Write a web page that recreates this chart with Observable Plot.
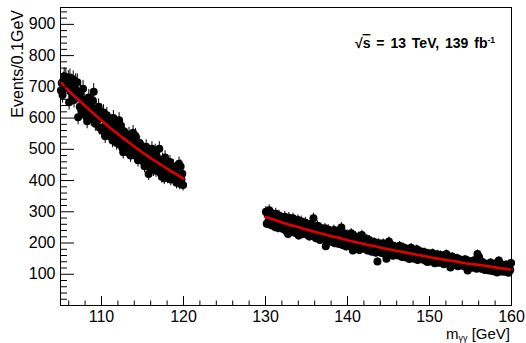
<!DOCTYPE html>
<html><head><meta charset="utf-8">
<script src="https://cdn.jsdelivr.net/npm/d3@7"></script>
<script src="https://cdn.jsdelivr.net/npm/@observablehq/plot@0.6"></script>
<style>
html,body{margin:0;padding:0;background:#fff;}
#chart{width:526px;height:343px;overflow:hidden;}
</style></head><body><div id="chart"></div>
<script>
// ---- data (Events per 0.1 GeV bin) ----
const binWidth = 0.1;
const lowStart = 105;
const lowCounts = [
  688, 712, 674, 720, 734, 696, 731, 716, 703, 725,
  651, 730, 684, 709, 668, 724, 658, 699, 715, 677,
  715, 603, 668, 636, 684, 626, 660, 694, 617, 652,
  608, 650, 590, 638, 666, 612, 646, 598, 633, 656,
  684, 612, 582, 630, 590, 618, 636, 570, 609, 620,
  560, 604, 618, 570, 542, 596, 609, 555, 590, 566,
  542, 587, 556, 528, 600, 548, 534, 578, 520, 566,
  535, 593, 515, 576, 548, 505, 491, 558, 531, 521,
  498, 538, 492, 547, 519, 480, 532, 503, 553, 494,
  531, 543, 478, 511, 465, 502, 520, 472, 507, 485,
  462, 500, 446, 492, 508, 465, 456, 421, 443, 481,
  476, 502, 449, 434, 471, 494, 431, 477, 444, 464,
  502, 426, 454, 412, 466, 434, 407, 474, 419, 457,
  410, 452, 423, 459, 403, 441, 414, 446, 403, 431,
  436, 393, 417, 416, 454, 390, 445, 403, 422, 386
];
const highStart = 130;
const highCounts = [
  300, 262, 291, 270, 305, 284, 258, 296, 275, 266,
  282, 251, 294, 265, 276, 248, 288, 259, 279, 270,
  278, 245, 266, 284, 252, 238, 271, 229, 281, 256,
  270, 236, 258, 279, 243, 262, 232, 266, 249, 274,
  224, 262, 238, 270, 251, 229, 258, 244, 266, 233,
  258, 226, 249, 221, 244, 262, 233, 251, 279, 225,
  246, 215, 239, 255, 222, 236, 210, 248, 228, 241,
  238, 212, 247, 190, 231, 219, 243, 205, 226, 236,
  233, 203, 226, 242, 199, 221, 210, 236, 215, 197,
  224, 198, 250, 215, 193, 231, 206, 220, 189, 227,
  218, 192, 225, 201, 231, 210, 176, 214, 197, 222,
  185, 211, 196, 220, 178, 205, 193, 226, 188, 207,
  206, 181, 199, 213, 176, 194, 210, 185, 201, 172,
  197, 174, 203, 183, 169, 192, 141, 200, 178, 190,
  195, 168, 186, 199, 175, 181, 163, 150, 191, 177,
  205, 166, 185, 172, 193, 159, 180, 170, 188, 162,
  183, 160, 176, 191, 165, 178, 155, 169, 186, 174,
  172, 154, 181, 163, 176, 149, 168, 185, 158, 170,
  176, 150, 165, 158, 180, 146, 169, 161, 152, 173,
  148, 166, 155, 171, 144, 160, 152, 139, 167, 158,
  162, 141, 157, 168, 146, 153, 135, 160, 149, 164,
  155, 137, 150, 162, 141, 146, 158, 132, 151, 143,
  165, 136, 148, 140, 153, 122, 145, 157, 131, 147,
  147, 130, 142, 152, 126, 139, 148, 133, 144, 128,
  141, 127, 138, 148, 123, 136, 112, 143, 130, 139,
  126, 140, 121, 134, 145, 128, 137, 118, 165, 131,
  155, 119, 132, 141, 117, 128, 136, 114, 130, 124,
  118, 133, 112, 127, 138, 121, 129, 110, 125, 134,
  115, 128, 106, 123, 144, 117, 126, 109, 131, 120,
  124, 108, 119, 131, 112, 121, 105, 127, 114, 136
];
// fit curves
const fitLowX = [105,106,107,108,109,110,111,112,113,114,115,116,117,118,119,120];
const fitLowY = [715,688,663,639,615,592,570,549,529,509,490,472,455,438,422,406];
const fitHighX = [130,131,132,133,134,135,136,137,138,139,140,141,142,143,144,145,146,147,148,149,150,151,152,153,154,155,156,157,158,159,160];
const fitHighY = [283,275,266,258,251,243,236,229,222,216,209,203,197,191,186,180,175,170,165,160,155,150,146,142,137,133,130,126,122,118,115];
// axes
const xDomain = [105, 160];
const yDomain = [0, 954];
const xMajorTicks = [110,120,130,140,150,160];
const xMinorTicks = [106,108,112,114,116,118,122,124,126,128,132,134,136,138,142,144,146,148,152,154,156,158];
const yMajorTicks = [100,200,300,400,500,600,700,800,900];
const yMinorTicks = [20,40,60,80,120,140,160,180,220,240,260,280,320,340,360,380,420,440,460,480,520,540,560,580,620,640,660,680,720,740,760,780,820,840,860,880,920,940];
const yTitle = "Events/0.1GeV";
const xTitleMain = "m";
const xTitleSub = "γγ";
const xTitleUnit = " [GeV]";
const annRoot = "√";
const annS = "s";
const annText = " = 13 TeV, 139 fb";
const annSup = "-1";

// ---- build ----
const W = 526, H = 343, mL = 60, mR = 15, mT = 7, mB = 38;
const pw = W - mL - mR, ph = H - mT - mB;
const points = [
  ...lowCounts.map((n, i) => ({x: lowStart + (i + 0.5) * binWidth, n})),
  ...highCounts.map((n, i) => ({x: highStart + (i + 0.5) * binWidth, n}))
];
const fitLow = fitLowX.map((x, i) => ({x, y: fitLowY[i]}));
const fitHigh = fitHighX.map((x, i) => ({x, y: fitHighY[i]}));

const svgEl = Plot.plot({
  width: W, height: H,
  marginLeft: mL, marginRight: mR, marginTop: mT, marginBottom: mB,
  style: {fontFamily: "'Liberation Sans', Arial, Helvetica, sans-serif", fontSize: "16px", background: "#fff", color: "#000"},
  x: {domain: xDomain, axis: null},
  y: {domain: yDomain, axis: null},
  marks: [
    Plot.ruleX(points, {x: "x", y1: d => d.n - Math.sqrt(d.n), y2: d => d.n + Math.sqrt(d.n), stroke: "#000", strokeWidth: 1}),
    Plot.dot(points, {x: "x", y: "n", r: 4, fill: "#000", stroke: "none"}),
    Plot.line(fitLow, {x: "x", y: "y", stroke: "#e00000", strokeWidth: 2.6, curve: "natural"}),
    Plot.line(fitHigh, {x: "x", y: "y", stroke: "#e00000", strokeWidth: 2.6, curve: "natural"}),
    Plot.ruleY(yMajorTicks, {stroke: "#000", insetRight: pw - 14}),
    Plot.ruleY(yMinorTicks, {stroke: "#000", insetRight: pw - 7}),
    Plot.ruleX(xMajorTicks, {stroke: "#000", insetTop: ph - 9}),
    Plot.ruleX(xMinorTicks, {stroke: "#000", insetTop: ph - 4.5}),
    Plot.axisY({ticks: yMajorTicks, tickSize: 0, tickPadding: 5, label: null}),
    Plot.axisX({ticks: xMajorTicks, tickSize: 0, tickPadding: 5, label: null}),
    Plot.frame({stroke: "#000", strokeWidth: 1})
  ]
});
document.getElementById("chart").appendChild(svgEl);

const svg = d3.select(svgEl);
svg.append("text")
  .attr("transform", "translate(23,10) rotate(-90)")
  .attr("text-anchor", "end")
  .attr("font-size", 16)
  .attr("fill", "#000")
  .text(yTitle);

const xt = svg.append("text")
  .attr("x", 510).attr("y", 338.5)
  .attr("text-anchor", "end")
  .attr("font-size", 15)
  .attr("fill", "#000");
xt.append("tspan").text(xTitleMain);
xt.append("tspan").attr("font-size", 9).attr("dy", 2).text(xTitleSub);
xt.append("tspan").attr("dy", -2).text(xTitleUnit);

const ann = svg.append("text")
  .attr("x", 495).attr("y", 48)
  .attr("text-anchor", "end")
  .attr("font-size", 14)
  .attr("font-weight", "bold")
  .attr("word-spacing", "2px")
  .attr("fill", "#000");
ann.append("tspan").text(annRoot);
ann.append("tspan").attr("text-decoration", "overline").text(annS);
ann.append("tspan").text(annText);
ann.append("tspan").attr("font-size", 8.5).attr("dy", -5.5).text(annSup);
</script></body></html>
